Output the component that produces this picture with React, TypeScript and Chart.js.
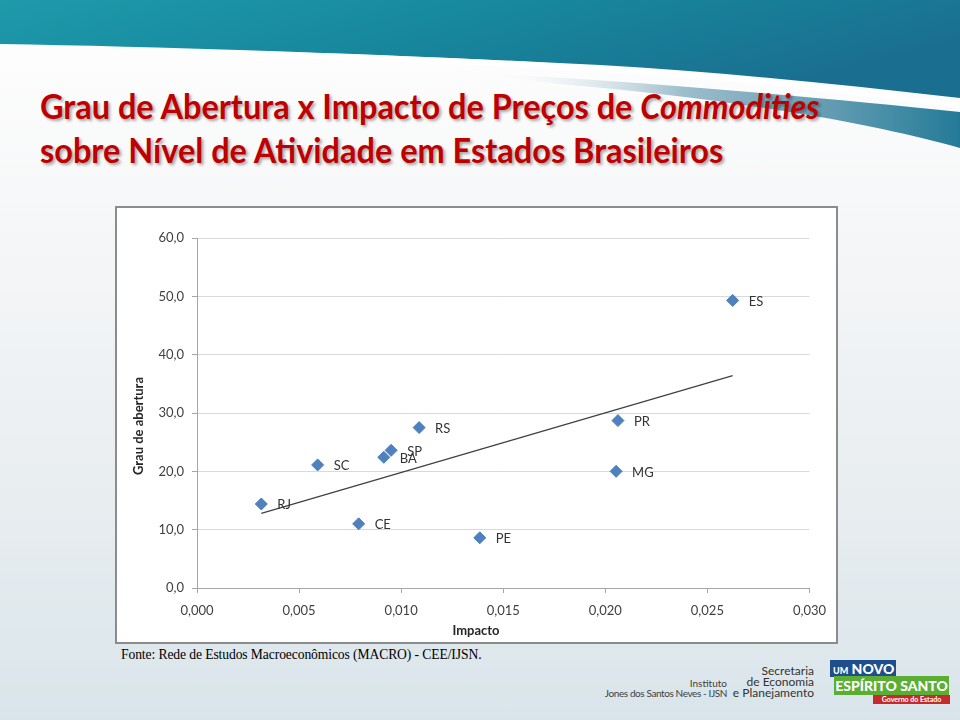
import React, { useEffect, useRef } from "react";
import { Chart, registerables } from "chart.js";

Chart.register(...registerables);

// ---- data ----
const states = ["RJ", "SC", "CE", "BA", "SP", "RS", "PE", "PR", "MG", "ES"];
const impacto = [0.00315, 0.00591, 0.00792, 0.00915, 0.00951, 0.01088, 0.01385, 0.02062, 0.02053, 0.02624];
const grauAbertura = [14.4, 21.1, 11.0, 22.4, 23.6, 27.5, 8.6, 28.7, 20.0, 49.3];
const trendX = [0.00315, 0.02624];
const trendY = [12.8, 36.4];
const xRange = [0, 0.03, 0.005];
const yRange = [0, 60, 10];
const xTitle = "Impacto";
const yTitle = "Grau de abertura";
const titleLine1 = "Grau de Abertura x Impacto de Preços de ";
const titleItalic = "Commodities";
const titleLine2 = "sobre Nível de Atividade em Estados Brasileiros";
const source = "Fonte: Rede de Estudos Macroeconômicos (MACRO) - CEE/IJSN.";

const FONT = "Lato, 'Open Sans', sans-serif";

const labelPlugin = {
  id: "pointLabels",
  afterDatasetsDraw(chart: any) {
    const ctx = chart.ctx;
    const meta = chart.getDatasetMeta(0);
    ctx.save();
    ctx.font = "13px " + FONT;
    ctx.fillStyle = "#333333";
    ctx.textAlign = "left";
    ctx.textBaseline = "middle";
    meta.data.forEach((el: any, i: number) => {
      ctx.fillText(states[i], el.x + 16, el.y + 1);
    });
    ctx.restore();
  },
};

const axisTitlePlugin = {
  id: "axisTitles",
  afterDraw(chart: any) {
    const ctx = chart.ctx;
    ctx.save();
    ctx.font = "bold 13px " + FONT;
    ctx.fillStyle = "#262626";
    ctx.textAlign = "center";
    ctx.textBaseline = "middle";
    ctx.fillText(xTitle, 359, 423);
    ctx.translate(22, 218);
    ctx.rotate(-Math.PI / 2);
    ctx.fillText(yTitle, 0, 0);
    ctx.restore();
  },
};

function ScatterChart() {
  const ref = useRef<HTMLCanvasElement>(null);
  useEffect(() => {
    if (!ref.current) return;
    const chart = new Chart(ref.current, {
      type: "scatter",
      data: {
        datasets: [
          {
            label: "Estados",
            data: impacto.map((x, i) => ({ x, y: grauAbertura[i] })),
            pointStyle: "rectRot",
            pointRadius: 6,
            backgroundColor: "#4F81BD",
            borderColor: "#4A7EBB",
            borderWidth: 1,
          },
          {
            label: "Tendência",
            data: trendX.map((x, i) => ({ x, y: trendY[i] })),
            showLine: true,
            borderColor: "#404040",
            borderWidth: 1.2,
            pointRadius: 0,
          },
        ],
      },
      options: {
        animation: false,
        responsive: false,
        maintainAspectRatio: false,
        layout: { padding: { top: 30, right: 26, left: 0, bottom: 0 } },
        plugins: { legend: { display: false }, tooltip: { enabled: false } },
        scales: {
          x: {
            type: "linear",
            min: xRange[0],
            max: xRange[1],
            ticks: {
              stepSize: xRange[2],
              padding: 10,
              color: "#404040",
              font: { family: FONT, size: 13 },
              callback: (v: any) => Number(v).toFixed(3).replace(".", ","),
            },
            grid: { drawOnChartArea: false, tickLength: 5, color: "#a6a6a6" },
            border: { color: "#a6a6a6" },
            afterFit: (s: any) => {
              s.height = 54;
            },
          },
          y: {
            min: yRange[0],
            max: yRange[1],
            ticks: {
              stepSize: yRange[2],
              padding: 8,
              color: "#404040",
              font: { family: FONT, size: 13 },
              callback: (v: any) => Number(v).toFixed(1).replace(".", ","),
            },
            grid: { color: "#d9d9d9", tickLength: 5, tickColor: "#a6a6a6" },
            border: { color: "#a6a6a6" },
            afterFit: (s: any) => {
              s.width = 80;
            },
          },
        },
      },
      plugins: [labelPlugin, axisTitlePlugin],
    } as any);
    return () => chart.destroy();
  }, []);
  return <canvas ref={ref} width={719} height={434} style={{ width: 719, height: 434, display: "block" }} />;
}

export default function App() {
  return (
    <div style={{ position: "absolute", left: 0, top: 0, width: 960, height: 720, overflow: "hidden", fontFamily: FONT }}>
      <svg width={960} height={720} style={{ position: "absolute", left: 0, top: 0 }}>
        <defs>
          <linearGradient id="bg" x1="0" y1="0" x2="0" y2="1">
            <stop offset="0" stopColor="#ffffff" />
            <stop offset="0.3" stopColor="#f6f7f8" />
            <stop offset="0.7" stopColor="#e8edf0" />
            <stop offset="1" stopColor="#d9e5eb" />
          </linearGradient>
          <linearGradient id="teal" x1="0" y1="0" x2="1" y2="0.4">
            <stop offset="0" stopColor="#1e9aab" />
            <stop offset="0.5" stopColor="#17879d" />
            <stop offset="1" stopColor="#1a6f90" />
          </linearGradient>
          <linearGradient id="teal2" x1="0" y1="0" x2="1" y2="0">
            <stop offset="0" stopColor="#e6ecef" stopOpacity={0} />
            <stop offset="0.4" stopColor="#5d93aa" stopOpacity={0.6} />
            <stop offset="1" stopColor="#237a98" />
          </linearGradient>
        </defs>
        <rect x={0} y={0} width={960} height={720} fill="url(#bg)" />
        <path d="M500,74 C680,84 840,100 960,112 V148 C860,120 720,98 560,84 C540,82 520,80 500,78 Z" fill="url(#teal2)" />
        <path d="M0,0 H960 V98 C840,84 720,72 600,65 C380,54 180,47 0,44 Z" fill="url(#teal)" />
        <path d="M250,54 C450,60 640,68 800,86 C870,94 920,100 960,106" stroke="#ffffff" strokeWidth={6} fill="none" opacity={0.8} />
      </svg>

      <div
        style={{
          position: "absolute",
          left: 40,
          top: 84,
          fontSize: 34,
          lineHeight: "44px",
          fontWeight: 700,
          color: "#BE0000",
          textShadow: "2px 2px 3px rgba(0,0,0,0.35)",
          whiteSpace: "nowrap",
          transformOrigin: "0 0",
          transform: "scaleX(0.955)",
        }}
      >
        <div>
          {titleLine1}
          <i>{titleItalic}</i>
        </div>
        <div>{titleLine2}</div>
      </div>

      <div
        style={{
          position: "absolute",
          left: 115,
          top: 206,
          width: 723,
          height: 438,
          boxSizing: "border-box",
          border: "2px solid #8c8c8c",
          background: "#ffffff",
        }}
      >
        <ScatterChart />
      </div>

      <div
        style={{
          position: "absolute",
          left: 121,
          top: 647,
          fontFamily: "'Liberation Serif', 'Times New Roman', serif",
          fontSize: 13.6,
          letterSpacing: -0.1,
          color: "#000000",
          whiteSpace: "nowrap",
        }}
      >
        {source}
      </div>

      <div style={{ position: "absolute", right: 960 - 727, top: 678, textAlign: "right", fontSize: 10, lineHeight: "10px", color: "#404040", whiteSpace: "nowrap" }}>
        <div>Instituto</div>
        <div style={{ letterSpacing: -0.4 }}>Jones dos Santos Neves - IJSN</div>
      </div>
      <div style={{ position: "absolute", right: 960 - 814, top: 665, textAlign: "right", fontSize: 12, lineHeight: "11px", color: "#333333", whiteSpace: "nowrap" }}>
        <div>Secretaria</div>
        <div>de Economia</div>
        <div>e Planejamento</div>
      </div>
      <div style={{ position: "absolute", left: 830, top: 660, width: 66, height: 17, background: "#1f4e8c", color: "#fff", fontWeight: 900, fontSize: 14, lineHeight: "17px", paddingLeft: 3, boxSizing: "border-box", whiteSpace: "nowrap" }}>
        <span style={{ fontSize: 9 }}>UM</span> NOVO
      </div>
      <div style={{ position: "absolute", left: 834, top: 676, width: 115, height: 19, background: "#5aaf33", color: "#fff", fontWeight: 900, fontSize: 14, lineHeight: "19px", textAlign: "center", whiteSpace: "nowrap" }}>
        ESPÍRITO SANTO
      </div>
      <div style={{ position: "absolute", left: 873, top: 695, width: 77, height: 9, background: "#c8292c", color: "#fff", fontWeight: 700, fontSize: 7, lineHeight: "9px", textAlign: "center", whiteSpace: "nowrap" }}>
        Governo do Estado
      </div>
    </div>
  );
}
